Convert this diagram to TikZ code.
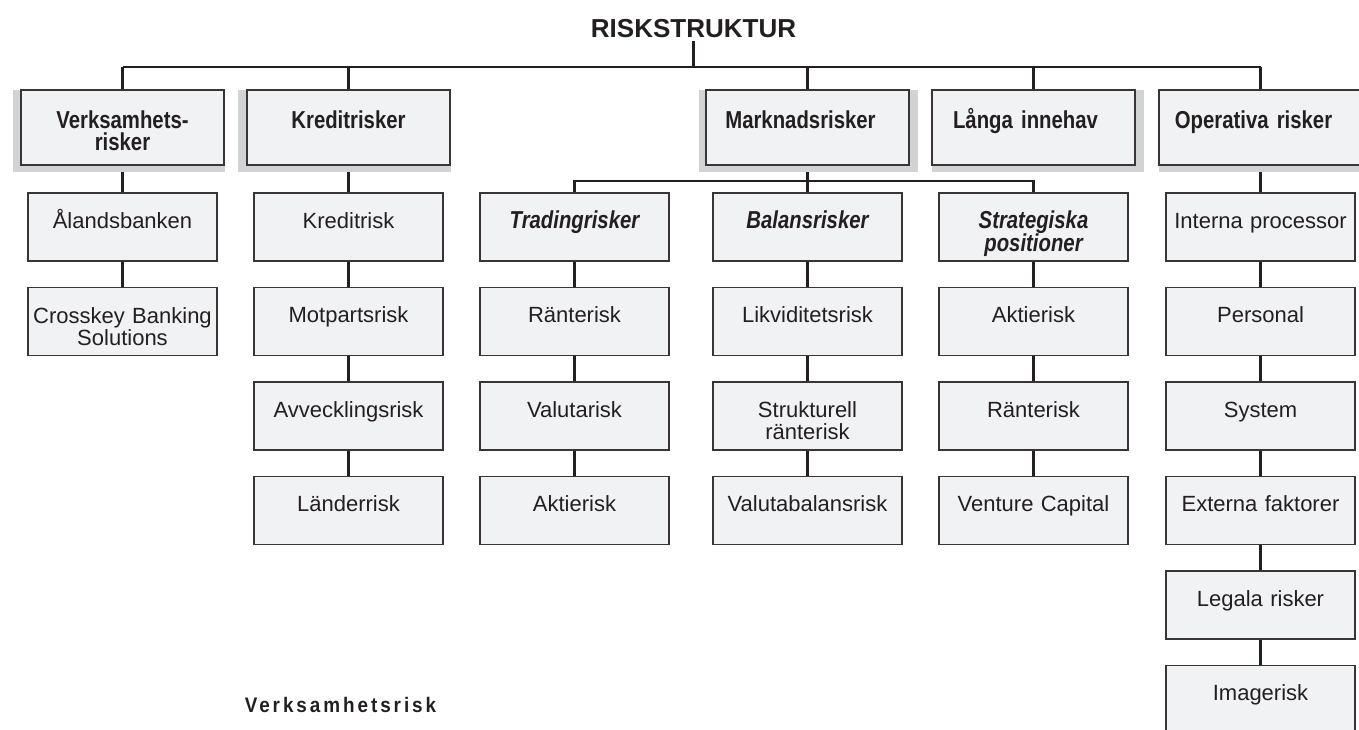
\documentclass[tikz,border=0pt]{standalone}
\usepackage{fontspec}
\setmainfont{Liberation Sans}
\newfontfamily\hdfont{Liberation Sans}[FakeStretch=0.83]
\newfontfamily\capfont{Liberation Sans}[FakeStretch=0.9,LetterSpace=14]
\definecolor{boxfill}{HTML}{F1F2F4}
\definecolor{shadowgray}{HTML}{D1D3D4}
\definecolor{ink}{HTML}{231F20}
\pgfdeclarelayer{lines}
\pgfdeclarelayer{shadows}
\pgfsetlayers{lines,shadows,main}
\tikzset{
  box/.style={draw=ink!90, line width=1.6pt, fill=boxfill, inner sep=0pt, outer sep=0pt, anchor=north west},
  lone/.style={box, minimum width=203pt, minimum height=75pt},
  ltwo/.style={box, minimum width=189pt, minimum height=68pt},
  conn/.style={draw=ink, line width=2.5pt},
  boxshadow/.style={fill=shadowgray, draw=none},
  regtxt/.style={text=ink, font=\fontsize{22}{22}\selectfont, align=center, text width=186pt, inner sep=0pt, anchor=base},
  hdtxt/.style={regtxt, font=\hdfont\bfseries\fontsize{24.5}{22}\selectfont},
  ittxt/.style={regtxt, font=\hdfont\bfseries\itshape\fontsize{24.5}{22}\selectfont},
}
\begin{document}
\begin{tikzpicture}[x=1pt,y=-1pt]
\useasboundingbox (0,0) rectangle (1359,729);
% title
\node[text=ink, font=\bfseries\fontsize{26}{26}\selectfont, anchor=base] (title) at (693.5,37) {RISKSTRUKTUR};
\coordinate (tl) at (0,67);
\coordinate (ml) at (0,181);
% level 1
\node[lone] (verk) at (21,90) {};
\node[lone] (kred) at (247,90) {};
\node[lone] (mark) at (706,90) {};
\node[lone] (lang) at (932,90) {};
\node[lone] (oper) at (1159,90) {};
\node[hdtxt] (verkt) at ([yshift=-38pt]verk.north) {Verksamhets-\\risker};
\node[hdtxt] (kredt) at ([yshift=-38pt]kred.north) {Kreditrisker};
\node[hdtxt] (markt) at ([yshift=-38pt,xshift=-7pt]mark.north) {Marknadsrisker};
\node[hdtxt] (langt) at ([yshift=-38pt,xshift=-8pt]lang.north) {Långa innehav};
\node[hdtxt] (opert) at ([yshift=-38pt,xshift=-7pt]oper.north) {Operativa risker};
\begin{pgfonlayer}{shadows}
\path[boxshadow] (13,90) rectangle (225,172);
\path[boxshadow] (238,90) rectangle (451,172);
\path[boxshadow] (699,90) rectangle (918,172);
\path[boxshadow] (932,90) rectangle (1144,172);
\path[boxshadow] (1159,90) rectangle (1362,172);
\end{pgfonlayer}
% column V
\node[ltwo] (v1) at (28,193) {};
\node[ltwo] (v2) at (28,287.5) {};
\node[regtxt] (v1t) at ([yshift=-35pt]v1.north) {Ålandsbanken};
\node[regtxt] (v2t) at ([yshift=-36pt]v2.north) {Crosskey Banking\\Solutions};
% column K
\node[ltwo] (k1) at (254,193) {};
\node[ltwo] (k2) at (254,287.5) {};
\node[ltwo] (k3) at (254,382) {};
\node[ltwo] (k4) at (254,476.5) {};
\node[regtxt] (k1t) at ([yshift=-35pt]k1.north) {Kreditrisk};
\node[regtxt] (k2t) at ([yshift=-35pt]k2.north) {Motpartsrisk};
\node[regtxt] (k3t) at ([yshift=-35pt]k3.north) {Avvecklingsrisk};
\node[regtxt] (k4t) at ([yshift=-35pt]k4.north) {Länderrisk};
% column T
\node[ltwo] (t1) at (480,193) {};
\node[ltwo] (t2) at (480,287.5) {};
\node[ltwo] (t3) at (480,382) {};
\node[ltwo] (t4) at (480,476.5) {};
\node[ittxt] (t1t) at ([yshift=-35pt]t1.north) {Tradingrisker};
\node[regtxt] (t2t) at ([yshift=-35pt]t2.north) {Ränterisk};
\node[regtxt] (t3t) at ([yshift=-35pt]t3.north) {Valutarisk};
\node[regtxt] (t4t) at ([yshift=-35pt]t4.north) {Aktierisk};
% column B
\node[ltwo] (b1) at (713,193) {};
\node[ltwo] (b2) at (713,287.5) {};
\node[ltwo] (b3) at (713,382) {};
\node[ltwo] (b4) at (713,476.5) {};
\node[ittxt] (b1t) at ([yshift=-35pt]b1.north) {Balansrisker};
\node[regtxt] (b2t) at ([yshift=-35pt]b2.north) {Likviditetsrisk};
\node[regtxt] (b3t) at ([yshift=-35pt]b3.north) {Strukturell\\ränterisk};
\node[regtxt] (b4t) at ([yshift=-35pt]b4.north) {Valutabalansrisk};
% column S
\node[ltwo] (s1) at (939,193) {};
\node[ltwo] (s2) at (939,287.5) {};
\node[ltwo] (s3) at (939,382) {};
\node[ltwo] (s4) at (939,476.5) {};
\node[ittxt] (s1t) at ([yshift=-35pt]s1.north) {Strategiska\\positioner};
\node[regtxt] (s2t) at ([yshift=-35pt]s2.north) {Aktierisk};
\node[regtxt] (s3t) at ([yshift=-35pt]s3.north) {Ränterisk};
\node[regtxt] (s4t) at ([yshift=-35pt]s4.north) {Venture Capital};
% column O
\node[ltwo] (o1) at (1166,193) {};
\node[ltwo] (o2) at (1166,287.5) {};
\node[ltwo] (o3) at (1166,382) {};
\node[ltwo] (o4) at (1166,476.5) {};
\node[ltwo] (o5) at (1166,571) {};
\node[ltwo] (o6) at (1166,665.5) {};
\node[regtxt] (o1t) at ([yshift=-35pt]o1.north) {Interna processor};
\node[regtxt] (o2t) at ([yshift=-35pt]o2.north) {Personal};
\node[regtxt] (o3t) at ([yshift=-35pt]o3.north) {System};
\node[regtxt] (o4t) at ([yshift=-35pt]o4.north) {Externa faktorer};
\node[regtxt] (o5t) at ([yshift=-35pt]o5.north) {Legala risker};
\node[regtxt] (o6t) at ([yshift=-35pt]o6.north) {Imagerisk};
% bottom caption
\node[text=ink, font=\capfont\bfseries\fontsize{21}{21}\selectfont, anchor=base, inner sep=0pt] (vrisk) at (340.5,712) {Verksamhetsrisk};
% connectors
\begin{pgfonlayer}{lines}
\draw[conn] (title.south) -- (title.south |- tl);
\draw[conn] (verk.north |- tl) -- (oper.north |- tl);
\foreach \n in {verk,kred,mark,lang,oper} \draw[conn] (\n.north) -- (\n.north |- tl);
\draw[conn] (mark.south) -- (mark.south |- ml);
\draw[conn] (t1.north) |- (s1.north |- ml) -- (s1.north);
\draw[conn] (b1.north) -- (b1.north |- ml);
\draw[conn] (verk.south) -- (v1.north);
\draw[conn] (v1.south) -- (v2.north);
\draw[conn] (kred.south) -- (k1.north);
\draw[conn] (k1.south) -- (k2.north);
\draw[conn] (k2.south) -- (k3.north);
\draw[conn] (k3.south) -- (k4.north);
\draw[conn] (t1.south) -- (t2.north);
\draw[conn] (t2.south) -- (t3.north);
\draw[conn] (t3.south) -- (t4.north);
\draw[conn] (b1.south) -- (b2.north);
\draw[conn] (b2.south) -- (b3.north);
\draw[conn] (b3.south) -- (b4.north);
\draw[conn] (s1.south) -- (s2.north);
\draw[conn] (s2.south) -- (s3.north);
\draw[conn] (s3.south) -- (s4.north);
\draw[conn] (oper.south) -- (o1.north);
\draw[conn] (o1.south) -- (o2.north);
\draw[conn] (o2.south) -- (o3.north);
\draw[conn] (o3.south) -- (o4.north);
\draw[conn] (o4.south) -- (o5.north);
\draw[conn] (o5.south) -- (o6.north);
\end{pgfonlayer}
\end{tikzpicture}
\end{document}
